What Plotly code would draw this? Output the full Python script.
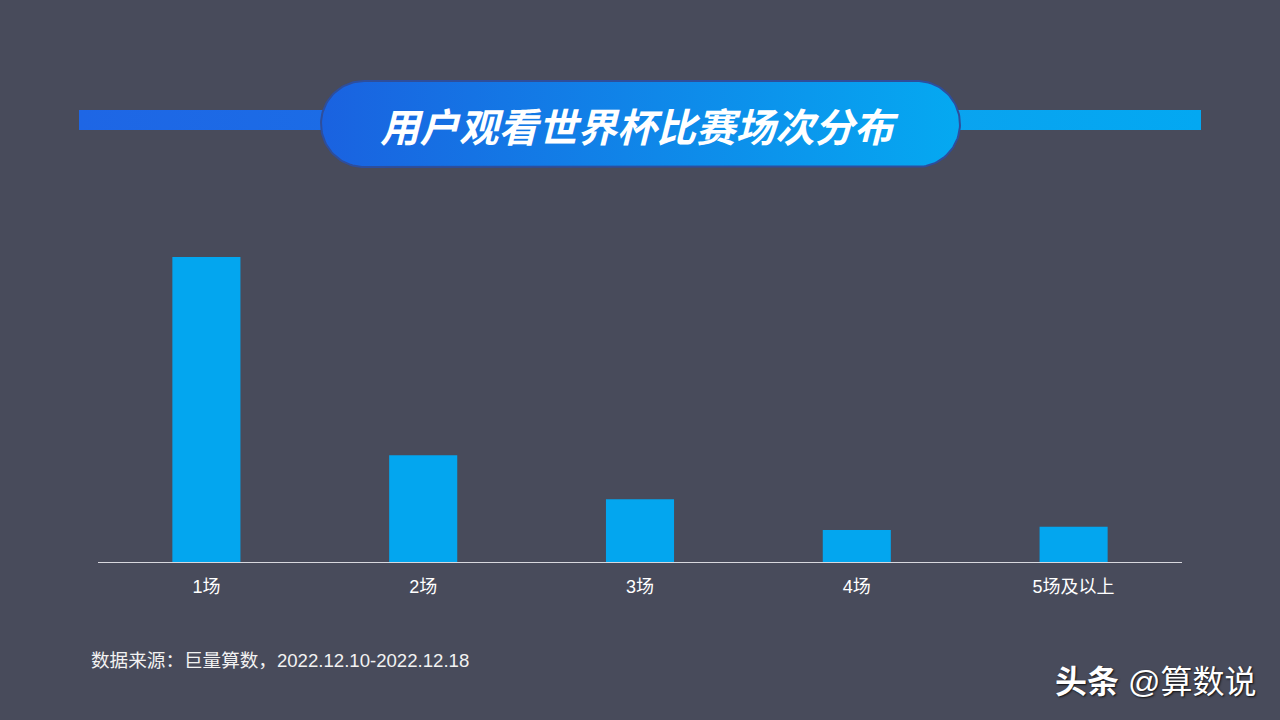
import numpy as np
import plotly.graph_objects as go

categories = ["1场", "2场", "3场", "4场", "5场及以上"]
values = [56.3, 19.7, 11.6, 5.9, 6.5]
title_text = "用户观看世界杯比赛场次分布"
source_text = "数据来源：巨量算数，2022.12.10-2022.12.18"

BG = "#484B5B"
BAR = "#03A6EF"
W, H = 1280, 720

fig = go.Figure()

fig.add_trace(go.Bar(
    x=categories, y=values, marker=dict(color=BAR, line=dict(width=0)),
    width=0.314, xaxis="x", yaxis="y", hoverinfo="x+y", showlegend=False,
))

# decorative overlay in pixel coordinates
def rect(x0, x1, y0, y1):
    return [x0, x1, x1, x0, x0], [y0, y0, y1, y1, y0]

lx, ly = rect(79, 340, 110, 130)
fig.add_trace(go.Scatter(x=lx, y=ly, mode="lines", line=dict(width=0), fill="toself",
                         fillgradient=dict(type="horizontal", colorscale=[[0, "#1E66E5"], [1, "#1B6CE6"]]),
                         xaxis="x2", yaxis="y2", hoverinfo="skip", showlegend=False))
rx, ry = rect(940, 1201, 110, 130)
fig.add_trace(go.Scatter(x=rx, y=ry, mode="lines", line=dict(width=0), fill="toself",
                         fillgradient=dict(type="horizontal", colorscale=[[0, "#0AA3EF"], [1, "#03A8F2"]]),
                         xaxis="x2", yaxis="y2", hoverinfo="skip", showlegend=False))

# pill
cx0, cx1, cy, r = 364, 917, 124, 43
t1 = np.linspace(np.pi / 2, 3 * np.pi / 2, 60)
t2 = np.linspace(-np.pi / 2, np.pi / 2, 60)
px = list(cx0 + r * np.cos(t1)) + list(cx1 + r * np.cos(t2))
py = list(cy - r * np.sin(t1)) + list(cy - r * np.sin(t2))
px.append(px[0]); py.append(py[0])
fig.add_trace(go.Scatter(x=px, y=py, mode="lines", line=dict(width=2, color="#2E4E9C"), fill="toself",
                         fillgradient=dict(type="horizontal", colorscale=[[0, "#1A62E0"], [1, "#05A9F1"]]),
                         xaxis="x2", yaxis="y2", hoverinfo="skip", showlegend=False))

fig.update_layout(
    width=W, height=H, paper_bgcolor=BG, plot_bgcolor="rgba(0,0,0,0)",
    margin=dict(l=0, r=0, t=0, b=0, pad=0), showlegend=False, bargap=0.686,
    xaxis=dict(domain=[98 / W, 1182 / W], showgrid=False, zeroline=False,
               showline=True, linecolor="#D8D8DE", linewidth=1, ticks="",
               tickfont=dict(family="Liberation Sans, Noto Sans CJK SC", size=18, color="#FFFFFF"),
               ticklabelstandoff=8, fixedrange=True, anchor="y"),
    yaxis=dict(domain=[(H - 562) / H, (H - 200) / H], range=[0, 66.8], showgrid=False,
               zeroline=False, showticklabels=False, showline=False, fixedrange=True, anchor="x"),
    xaxis2=dict(domain=[0, 1], range=[0, W], visible=False, anchor="y2", fixedrange=True),
    yaxis2=dict(domain=[0, 1], range=[H, 0], visible=False, anchor="x2", fixedrange=True),
    annotations=[
        dict(text="<b><i>" + title_text + "</i></b>", x=639, y=124, xref="x2", yref="y2",
             showarrow=False, xanchor="center", yanchor="middle",
             font=dict(family="Noto Sans CJK SC", size=39.5, color="#FFFFFF", weight=900)),
        dict(text=source_text, x=89, y=660, xref="x2", yref="y2", showarrow=False,
             xanchor="left", yanchor="middle",
             font=dict(family="Liberation Sans, Noto Sans CJK SC", size=18.6, color="#F2F2F2")),
        dict(text="<b>头条</b> @算数说", x=1258, y=682, xref="x2", yref="y2", showarrow=False,
             xanchor="right", yanchor="middle",
             font=dict(family="Liberation Sans, Noto Sans CJK SC", size=32, color="#FFFFFF",
                       shadow="1px 1px 2px #111")),
    ],
)

fig.write_html("out.html", post_script="document.body.style.margin='0';",
               config={"displayModeBar": False})
